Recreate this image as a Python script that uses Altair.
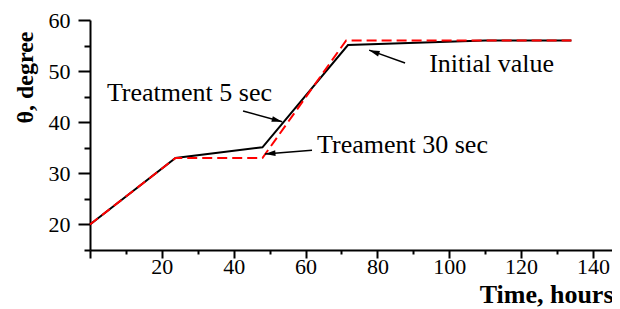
import altair as alt
import pandas as pd
import numpy as np

# Treatment 5 sec (black solid)
t5_x = [0, 23.8, 48, 71.8, 110, 134]
t5_y = [20, 33, 35.1, 55.1, 56, 56]
# Treament 30 sec (red dashed)
t30_x = [0, 23.8, 48, 71.3, 134]
t30_y = [20, 33, 33, 56, 56]

# annotations
labels = ["Treatment 5 sec", "Treament 30 sec", "Initial value"]
label_x = [4.7, 63.2, 94.4]
label_y = [44.06, 33.97, 49.8]
arrow_x1 = [42.6, 61.8, 87.7]
arrow_y1 = [42.2, 34.5, 51.6]
arrow_x2 = [53.5, 48.7, 77.7]
arrow_y2 = [40.1, 33.8, 54.1]

x_ticks = list(range(0, 141, 10))
y_ticks = list(range(15, 61, 5))

W, H = 522, 230
X_DOM = [0, 145.3]
Y_DOM = [15, 60]
FONT = "Liberation Serif"

px_x = W / (X_DOM[1] - X_DOM[0])
px_y = H / (Y_DOM[1] - Y_DOM[0])

lines = pd.concat([
    pd.DataFrame({"x": t5_x, "y": t5_y, "s": "t5"}),
    pd.DataFrame({"x": t30_x, "y": t30_y, "s": "t30"}),
])

ann = pd.DataFrame({"label": labels, "lx": label_x, "ly": label_y,
                    "x1": arrow_x1, "y1": arrow_y1, "x2": arrow_x2, "y2": arrow_y2})
ann["angle"] = np.degrees(np.arctan2(-(ann.y2 - ann.y1) * px_y, (ann.x2 - ann.x1) * px_x)) % 360

xs = alt.Scale(domain=X_DOM, nice=False, zero=False)
ys = alt.Scale(domain=Y_DOM, nice=False, zero=False)

x_axis = alt.Axis(
    values=x_ticks, grid=False, domainColor="black", domainWidth=2,
    tickColor="black", tickWidth=2,
    tickSize={"condition": {"test": "datum.value % 20 == 0", "value": 8}, "value": 4},
    labelExpr="(datum.value % 20 == 0 && datum.value > 0) ? datum.label : ''",
    labelFont=FONT, labelFontSize=22, labelColor="black", labelPadding=-2,
    title="Time, hours", titleFont=FONT, titleFontSize=26, titleFontWeight="bold",
    titleColor="black", titleAnchor="end", titleAlign="right", titleX=523, titleY=52,
    titleBaseline="alphabetic", labelFlush=False, labelOverlap=False,
)
y_axis = alt.Axis(
    values=y_ticks, grid=False, domainColor="black", domainWidth=2,
    tickColor="black", tickWidth=2,
    tickSize={"condition": {"test": "datum.value % 10 == 0", "value": 12}, "value": 6},
    labelExpr="datum.value % 10 == 0 ? datum.label : ''",
    labelFont=FONT, labelFontSize=22, labelColor="black", labelPadding=8,
    title="θ, degree", titleFont=FONT, titleFontSize=24, titleFontWeight="bold",
    titleColor="black", titleAngle=270, titleAlign="center", titleBaseline="middle",
    titleX=-65, titleY=57, labelFlush=False, labelOverlap=False,
)

black = alt.Chart(lines[lines.s == "t5"]).mark_line(color="black", strokeWidth=2).encode(
    x=alt.X("x:Q", scale=xs, axis=x_axis),
    y=alt.Y("y:Q", scale=ys, axis=y_axis),
)
red = alt.Chart(lines[lines.s == "t30"]).mark_line(color="#ff0000", strokeWidth=2, strokeDash=[10, 5]).encode(
    x=alt.X("x:Q", scale=xs, axis=x_axis),
    y=alt.Y("y:Q", scale=ys, axis=y_axis),
)
shafts = alt.Chart(ann).mark_rule(color="black", strokeWidth=1.5).encode(
    x=alt.X("x1:Q", scale=xs, axis=x_axis), y=alt.Y("y1:Q", scale=ys, axis=y_axis),
    x2="x2:Q", y2="y2:Q",
)
heads = alt.Chart(ann).mark_point(
    filled=True, shape="M -2 -0.55 L 0 0 L -2 0.55 Z", size=110, color="black", opacity=1, strokeWidth=0
).encode(
    x=alt.X("x2:Q", scale=xs, axis=x_axis), y=alt.Y("y2:Q", scale=ys, axis=y_axis),
    angle=alt.Angle("angle:Q", scale=None),
)
texts = alt.Chart(ann).mark_text(
    align="left", baseline="alphabetic", font=FONT, fontSize=26, color="black"
).encode(
    x=alt.X("lx:Q", scale=xs, axis=x_axis), y=alt.Y("ly:Q", scale=ys, axis=y_axis),
    text="label:N",
)

chart = alt.layer(black, red, shafts, heads, texts).properties(
    width=W, height=H,
    autosize=alt.AutoSizeParams(type="none"),
    padding={"left": 82, "top": 12, "right": 0, "bottom": 58},
).configure_view(stroke=None)

chart.save("out.html", embed_options={"renderer": "svg", "actions": False})
